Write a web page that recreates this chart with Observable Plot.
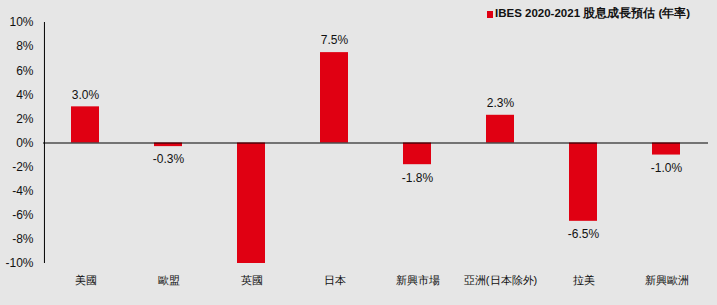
<!DOCTYPE html>
<html><head><meta charset="utf-8">
<script src="https://cdn.jsdelivr.net/npm/d3@7"></script>
<script src="https://cdn.jsdelivr.net/npm/@observablehq/plot@0.6"></script>
<style>
body{margin:0;background:#e6e6e6;}
#wrap{position:relative;width:717px;height:305px;background:#e6e6e6;font-family:"Liberation Sans",Arial,sans-serif;}
#legend{position:absolute;left:487px;top:6px;font-size:11.5px;font-weight:bold;color:#111;white-space:nowrap;}
#legend span.sw{display:inline-block;width:6px;height:7px;background:#e00012;margin-right:2px;vertical-align:-1px;}
#vaxis{position:absolute;left:43px;top:22px;width:1px;height:241px;background:#000;}
</style></head><body>
<div id="wrap"><div id="legend"><span class="sw"></span>IBES 2020-2021 股息成長預估 (年率)</div></div>
<script>
const categories = ["美國","歐盟","英國","日本","新興市場","亞洲(日本除外)","拉美","新興歐洲"];
const values = [3.0, -0.3, -10.0, 7.5, -1.8, 2.3, -6.5, -1.0];
const labels = ["3.0%","-0.3%","","7.5%","-1.8%","2.3%","-6.5%","-1.0%"];
const yTicks = [-10,-8,-6,-4,-2,0,2,4,6,8,10];

const data = categories.map((c,i)=>({cat:c, v:values[i], label:labels[i]}));
const W = 717, H = 305, mL = 43, mR = 9, mT = 22, mB = 42;
const pIn = 0.66, pOut = 0.33;
const step = (W - mL - mR) / categories.length;
const chart = Plot.plot({
  width:W, height:H,
  marginLeft:mL, marginRight:mR, marginTop:mT, marginBottom:mB,
  style:{background:"transparent", fontFamily:"Liberation Sans, Arial, sans-serif", fontSize:"12px", color:"#111"},
  x:{domain:categories, paddingInner:pIn, paddingOuter:pOut, label:null},
  y:{domain:[-10,10], label:null},
  marks:[
    Plot.barY(data,{x:"cat", y:"v", fill:"#e00012"}),
    Plot.ruleY([0],{stroke:"#000", strokeWidth:1}),
    Plot.ruleX([categories[0]],{x:d=>d, y1:yTicks[0], y2:yTicks[yTicks.length-1], stroke:"#000", strokeWidth:1, dx:-(step*pOut + step*(1-pIn)/2) + 0.5}),
    Plot.axisY({ticks:yTicks, tickFormat:d=>d+"%", tickSize:0, tickPadding:10, fontSize:12, label:null}),
    Plot.axisX({tickSize:0, tickPadding:13, fontSize:11, label:null}),
    Plot.text(data.filter(d=>d.v>=0),{x:"cat", y:"v", text:"label", dy:-12, fontSize:12}),
    Plot.text(data.filter(d=>d.v<0),{x:"cat", y:"v", text:"label", dy:13, fontSize:12})
  ]
});
document.getElementById("wrap").appendChild(chart);
chart.style.position="absolute"; chart.style.left="0"; chart.style.top="0";
</script>
</body></html>
